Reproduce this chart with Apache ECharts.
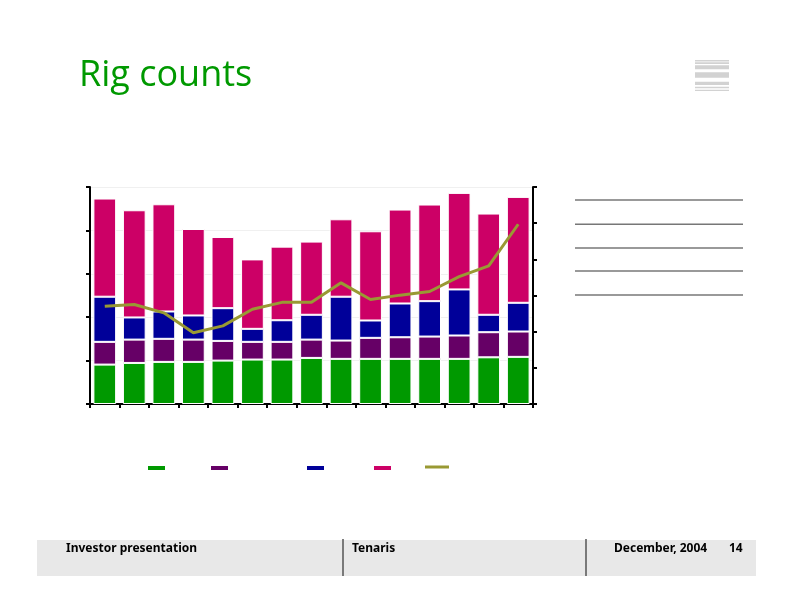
<!DOCTYPE html>
<html>
<head>
<meta charset="utf-8">
<script src="https://cdn.jsdelivr.net/npm/echarts@6/dist/echarts.min.js"></script>
<style>
  html, body { margin: 0; padding: 0; background: #fff; }
  #main { width: 792px; height: 612px; }
</style>
</head>
<body>
<div id="main"></div>
<script>
// 15 periods, no labels shown in the source
var categories = ['1', '2', '3', '4', '5', '6', '7', '8', '9', '10', '11', '12', '13', '14', '15'];

// stacked bar segments (left axis)
var greenVals  = [454, 473, 485, 485, 500, 512, 512, 531, 520, 520, 520, 520, 520, 538, 543];
var purpleVals = [262, 269, 266, 257, 227, 204, 204, 211, 211, 242, 249, 257, 269, 289, 292];
var blueVals   = [520, 255, 315, 278, 377, 150, 249, 286, 505, 200, 389, 408, 531, 201, 331];
var pinkVals   = [1131, 1235, 1235, 996, 820, 800, 848, 843, 892, 1028, 1082, 1113, 1112, 1166, 1220];

// line (right axis)
var lineVals = [27.0, 27.5, 25.2, 19.7, 21.6, 26.2, 28.1, 28.1, 33.5, 28.9, 30.1, 31.1, 35.2, 38.2, 49.7];

var colors = ['#009900', '#660066', '#000099', '#CC0066', '#999933'];
var names = ['s1', 's2', 's3', 's4', 's5'];
var legendX = [146, 209, 305, 372, 425];

var chart = echarts.init(document.getElementById('main'));

var barStyle = function (c) {
    return { color: c, borderColor: '#ffffff', borderWidth: 1 };
};

var legends = names.map(function (n, i) {
    var isLine = i === 4;
    return {
        data: [n],
        left: legendX[i],
        top: isLine ? 465.5 : 464,
        padding: 0,
        itemWidth: isLine ? 24 : 19,
        itemHeight: isLine ? 3 : 6,
        icon: 'rect',
        formatter: function () { return ''; },
        selectedMode: false,
        textStyle: { fontSize: 1 }
    };
});

var logoBands = [[60, 1.6], [62.3, 1.7], [65.3, 4], [72.3, 5.4], [81.7, 3.3], [86.7, 1.6], [89.7, 1.3]];
var panelLines = [200, 224.3, 248, 271, 295];

var footFont = 'bold 12px "Noto Sans", sans-serif';

var graphics = [
    {
        type: 'text', left: 79, top: 58,
        style: { text: 'Rig counts', fill: '#009900', font: '36px "Open Sans", sans-serif' }
    },
    {
        type: 'rect', shape: { x: 37, y: 540, width: 719, height: 36 },
        style: { fill: '#e8e8e8' }
    },
    {
        type: 'line', shape: { x1: 343, y1: 539, x2: 343, y2: 576 },
        style: { stroke: '#555', lineWidth: 1.5 }
    },
    {
        type: 'line', shape: { x1: 586, y1: 539, x2: 586, y2: 576 },
        style: { stroke: '#555', lineWidth: 1.5 }
    },
    { type: 'text', left: 66, top: 543, style: { text: 'Investor presentation', fill: '#000', font: footFont } },
    { type: 'text', left: 352, top: 543, style: { text: 'Tenaris', fill: '#000', font: footFont } },
    { type: 'text', left: 614, top: 543, style: { text: 'December, 2004', fill: '#000', font: footFont } },
    { type: 'text', left: 729, top: 543, style: { text: '14', fill: '#000', font: footFont } }
];

logoBands.forEach(function (b) {
    graphics.push({
        type: 'rect', shape: { x: 695, y: b[0], width: 34, height: b[1] },
        style: { fill: '#d2d2d2' }
    });
});

panelLines.forEach(function (y) {
    graphics.push({
        type: 'line', shape: { x1: 575, y1: y, x2: 743, y2: y },
        style: { stroke: '#777', lineWidth: 1.5 }
    });
});

var option = {
    animation: false,
    color: colors,
    legend: legends,
    grid: { left: 90, right: 259, top: 187, bottom: 208 },
    xAxis: {
        type: 'category',
        data: categories,
        boundaryGap: true,
        axisLine: { lineStyle: { color: '#000', width: 2 } },
        axisTick: { show: true, length: 4, lineStyle: { color: '#000', width: 2 } },
        axisLabel: { show: false }
    },
    yAxis: [
        {
            type: 'value', min: 0, max: 2500, interval: 500,
            axisLine: { show: true, lineStyle: { color: '#000', width: 2 } },
            axisTick: { show: true, length: 4, lineStyle: { color: '#000', width: 2 } },
            axisLabel: { show: false },
            splitLine: { show: true, lineStyle: { color: '#f0f0f0', width: 1 } }
        },
        {
            type: 'value', min: 0, max: 60, interval: 10, position: 'right',
            axisLine: { show: true, lineStyle: { color: '#000', width: 2 } },
            axisTick: { show: true, length: 4, lineStyle: { color: '#000', width: 2 } },
            axisLabel: { show: false },
            splitLine: { show: false }
        }
    ],
    series: [
        { name: names[0], type: 'bar', stack: 'rigs', barCategoryGap: '23%', data: greenVals, itemStyle: barStyle(colors[0]) },
        { name: names[1], type: 'bar', stack: 'rigs', data: purpleVals, itemStyle: barStyle(colors[1]) },
        { name: names[2], type: 'bar', stack: 'rigs', data: blueVals, itemStyle: barStyle(colors[2]) },
        { name: names[3], type: 'bar', stack: 'rigs', data: pinkVals, itemStyle: barStyle(colors[3]) },
        {
            name: names[4], type: 'line', yAxisIndex: 1, data: lineVals,
            symbol: 'none',
            itemStyle: { color: colors[4] },
            lineStyle: { color: colors[4], width: 3 }
        }
    ],
    graphic: graphics
};

chart.setOption(option);
</script>
</body>
</html>
